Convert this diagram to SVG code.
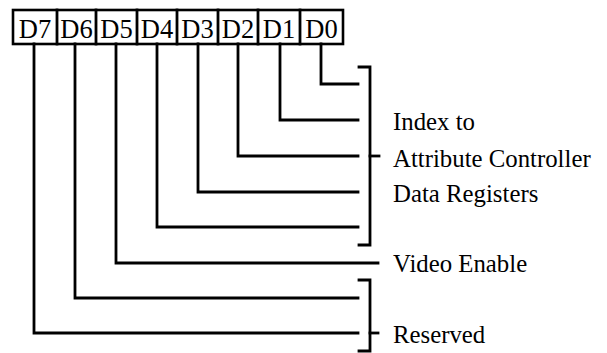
<svg xmlns="http://www.w3.org/2000/svg" width="607" height="353" viewBox="0 0 607 353">
<style>
.ln{fill:none;stroke:#000;stroke-width:2.8;stroke-linecap:square;stroke-linejoin:miter}
.cell{fill:#fff;stroke:#000;stroke-width:2.6}
.t{font-family:"Liberation Serif","Times New Roman",serif;font-size:24.8px;fill:#000}
.b{font-size:26.5px;text-anchor:middle}
</style>
<rect width="607" height="353" fill="#fff"/>
<g id="register">
<rect class="cell" x="13" y="10" width="330" height="34"/>
<g id="bit-D7"><line class="ln" x1="57" y1="10" x2="57" y2="44"/><text class="t b" x="35" y="38">D7</text></g>
<g id="bit-D6"><line class="ln" x1="96" y1="10" x2="96" y2="44"/><text class="t b" x="76.5" y="38">D6</text></g>
<g id="bit-D5"><line class="ln" x1="137" y1="10" x2="137" y2="44"/><text class="t b" x="116.5" y="38">D5</text></g>
<g id="bit-D4"><line class="ln" x1="177" y1="10" x2="177" y2="44"/><text class="t b" x="157" y="38">D4</text></g>
<g id="bit-D3"><line class="ln" x1="218" y1="10" x2="218" y2="44"/><text class="t b" x="197.5" y="38">D3</text></g>
<g id="bit-D2"><line class="ln" x1="258" y1="10" x2="258" y2="44"/><text class="t b" x="238" y="38">D2</text></g>
<g id="bit-D1"><line class="ln" x1="300" y1="10" x2="300" y2="44"/><text class="t b" x="279" y="38">D1</text></g>
<g id="bit-D0"><text class="t b" x="321.5" y="38">D0</text></g>
</g>
<g id="connectors">
<polyline class="ln" points="321,44 321,84 358,84"/>
<polyline class="ln" points="280,44 280,120 358,120"/>
<polyline class="ln" points="238,44 238,156 358,156"/>
<polyline class="ln" points="198,44 198,192 358,192"/>
<polyline class="ln" points="157,44 157,227 358,227"/>
<polyline class="ln" points="116,44 116,263 378,263"/>
<polyline class="ln" points="75,44 75,298 358,298"/>
<polyline class="ln" points="34,44 34,333 358,333"/>
<polyline class="ln" points="359,67 370,67 370,245 359,245"/>
<line class="ln" x1="370" y1="156" x2="379" y2="156"/>
<polyline class="ln" points="359,280 370,280 370,351 359,351"/>
<line class="ln" x1="370" y1="333" x2="378" y2="333"/>
</g>
<g id="labels">
<text class="t" x="393" y="130">Index to</text>
<text class="t" x="393" y="167">Attribute Controller</text>
<text class="t" x="393" y="202">Data Registers</text>
<text class="t" x="393" y="272">Video Enable</text>
<text class="t" x="393" y="343">Reserved</text>
</g>
</svg>
